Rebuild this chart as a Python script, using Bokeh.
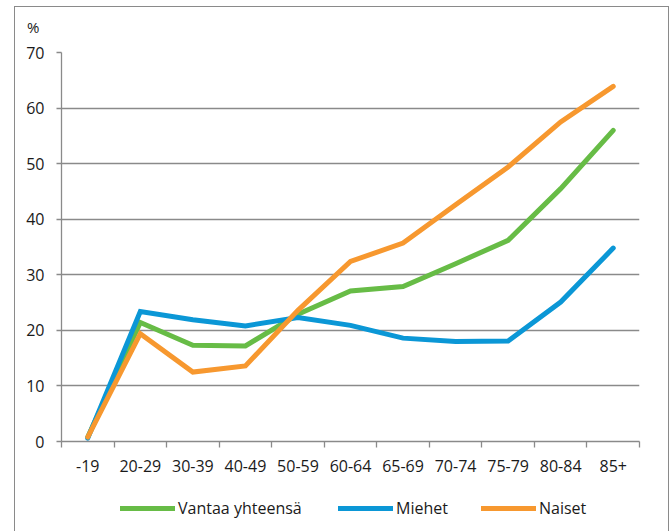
from bokeh.plotting import figure
from bokeh.layouts import column
from bokeh.models import FixedTicker, Legend, LegendItem, Div
from bokeh.embed import file_html
from bokeh.resources import INLINE

categories = ["-19", "20-29", "30-39", "40-49", "50-59", "60-64", "65-69", "70-74", "75-79", "80-84", "85+"]
vantaa = [0.8, 21.4, 17.3, 17.2, 22.9, 27.1, 27.9, 32.0, 36.2, 45.5, 56.0]
miehet = [0.6, 23.4, 21.9, 20.8, 22.3, 20.9, 18.6, 18.0, 18.1, 25.1, 34.8]
naiset = [0.8, 19.4, 12.5, 13.6, 23.6, 32.4, 35.7, 42.6, 49.4, 57.5, 63.9]
series_names = ["Vantaa yhteensä", "Miehet", "Naiset"]
y_ticks = [0, 10, 20, 30, 40, 50, 60, 70]
unit_label = "%"

FONT = "Open Sans"
GRAY = "#8a8a8a"
TXT = "#1a1a1a"
colors = ["#67bc46", "#0b97d6", "#f7982f"]

W = 653
n = len(categories)
xs = [i + 0.5 for i in range(n)]
series = [vantaa, miehet, naiset]

head = Div(text=f'<div style="padding:11px 0 0 12px;font-family:\'Open Sans\';font-size:15px;'
                f'line-height:18px;color:{TXT}">{unit_label}</div>',
           width=W, height=30, margin=(0, 0, 0, 0))

p = figure(width=W, height=449, output_backend="svg", toolbar_location=None,
           x_range=(0, n), y_range=(0, 70), title=None,
           min_border_left=46, min_border_top=15, min_border_right=29, min_border_bottom=45)
p.outline_line_color = None
p.background_fill_color = "white"
p.border_fill_color = "white"

p.xgrid.grid_line_color = None
p.ygrid.grid_line_color = GRAY
p.ygrid.grid_line_width = 1.3
p.ygrid.ticker = FixedTicker(ticks=y_ticks)

p.yaxis.ticker = FixedTicker(ticks=y_ticks)
p.yaxis.axis_line_color = GRAY
p.yaxis.axis_line_width = 1.3
p.yaxis.major_tick_line_color = GRAY
p.yaxis.major_tick_line_width = 1.3
p.yaxis.major_tick_out = 5
p.yaxis.major_tick_in = 0
p.yaxis.minor_tick_line_color = None
p.yaxis.major_label_standoff = 12
p.yaxis.major_label_text_font = FONT
p.yaxis.major_label_text_font_size = "16px"
p.yaxis.major_label_text_color = TXT

p.xaxis.ticker = FixedTicker(ticks=xs, minor_ticks=list(range(n + 1)))
p.xaxis.major_label_overrides = {x: c for x, c in zip(xs, categories)}
p.xaxis.axis_line_color = GRAY
p.xaxis.axis_line_width = 1.3
p.xaxis.major_tick_line_color = None
p.xaxis.major_tick_out = 0
p.xaxis.major_tick_in = 0
p.xaxis.minor_tick_line_color = GRAY
p.xaxis.minor_tick_line_width = 1.3
p.xaxis.minor_tick_out = 6
p.xaxis.minor_tick_in = 0
p.xaxis.major_label_standoff = 12
p.xaxis.major_label_text_font = FONT
p.xaxis.major_label_text_font_size = "16px"
p.xaxis.major_label_text_color = TXT

for vals, col in zip(series, colors):
    p.line(xs, vals, line_color=col, line_width=5, line_cap="round", line_join="miter")

# legend strip below the chart (its frame is aligned with the chart frame)
pl = figure(width=W, height=45, output_backend="svg", toolbar_location=None, title=None,
            x_range=(0, n), y_range=(-200, -100), x_axis_type=None, y_axis_type=None,
            min_border=0)
pl.outline_line_color = None
pl.xgrid.grid_line_color = None
pl.ygrid.grid_line_color = None
pl.background_fill_color = "white"
pl.border_fill_color = "white"

leg_x = [59, 277, 420]
for nm, vals, col, lx in zip(series_names, series, colors, leg_x):
    r = pl.line(xs, vals, line_color=col, line_width=5, line_cap="round")
    leg = Legend(items=[LegendItem(label=nm, renderers=[r])], location=(lx, 12),
                 orientation="horizontal", padding=0, margin=0, spacing=0,
                 glyph_width=55, glyph_height=20, label_height=20, label_standoff=3,
                 label_text_font=FONT, label_text_font_size="16px", label_text_color=TXT,
                 border_line_color=None, background_fill_alpha=0)
    pl.add_layout(leg)

layout = column(head, p, pl, spacing=0)
layout.margin = (6, 0, 0, 14)
layout.styles = {"border-left": "1px solid #8a8a8a", "border-top": "1px solid #8a8a8a",
                 "border-right": "1px solid #8a8a8a"}

open("out.html", "w").write(file_html(layout, INLINE))
